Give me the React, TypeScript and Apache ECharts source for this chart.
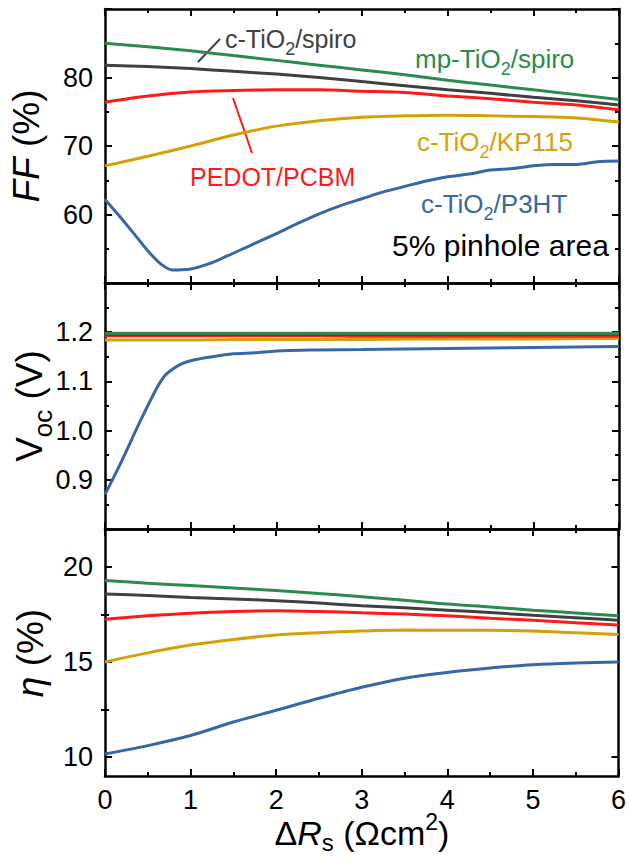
import React, { useEffect, useRef } from "react";
import * as echarts from "echarts";

// ---------- data ----------
const X13 = [0, 0.5, 1, 1.5, 2, 2.5, 3, 3.5, 4, 4.5, 5, 5.5, 6];

// Fill factor FF (%)
const FF_MP_SPIRO = [85.0, 84.5, 83.9, 83.2, 82.5, 81.8, 81.1, 80.4, 79.6, 78.9, 78.2, 77.5, 76.8];
const FF_C_SPIRO = [81.8, 81.6, 81.3, 80.9, 80.5, 80.0, 79.4, 78.8, 78.2, 77.7, 77.1, 76.6, 76.0];
const FF_PEDOT = [76.4, 77.3, 77.9, 78.1, 78.2, 78.2, 78.0, 77.8, 77.3, 76.9, 76.4, 76.0, 75.3];
const FF_KP115 = [67.1, 68.5, 70.0, 71.6, 72.9, 73.7, 74.2, 74.4, 74.5, 74.4, 74.3, 74.1, 73.5];
const FF_P3HT_X = [0, 0.18, 0.37, 0.5, 0.65, 0.79, 0.98, 1.21, 1.4, 1.7, 2.0, 2.25, 2.5, 2.75, 3.0, 3.25, 3.5, 3.75, 4.0, 4.25, 4.5, 4.75, 5.0, 5.25, 5.5, 5.75, 6.0];
const FF_P3HT = [62.2, 59.6, 56.7, 54.7, 52.8, 51.9, 52.0, 52.8, 53.8, 55.5, 57.2, 58.7, 60.1, 61.3, 62.3, 63.3, 64.1, 64.9, 65.5, 65.9, 66.5, 66.7, 67.1, 67.3, 67.3, 67.7, 67.8];

// Open-circuit voltage Voc (V)
const VOC_MP_SPIRO = [1.198, 1.198, 1.198, 1.198, 1.198, 1.198, 1.198, 1.198, 1.198, 1.198, 1.198, 1.198, 1.198];
const VOC_C_SPIRO = [1.196, 1.196, 1.196, 1.196, 1.196, 1.196, 1.196, 1.196, 1.196, 1.196, 1.196, 1.196, 1.196];
const VOC_PEDOT = [1.193, 1.193, 1.193, 1.193, 1.193, 1.193, 1.192, 1.192, 1.192, 1.192, 1.192, 1.192, 1.192];
const VOC_KP115 = [1.184, 1.184, 1.184, 1.185, 1.185, 1.185, 1.185, 1.186, 1.186, 1.186, 1.186, 1.187, 1.187];
const VOC_P3HT_X = [0, 0.2, 0.4, 0.6, 0.7, 0.8, 0.9, 1.0, 1.25, 1.5, 1.75, 2.0, 2.5, 3.0, 3.5, 4.0, 4.5, 5.0, 5.5, 6.0];
const VOC_P3HT = [0.870, 0.940, 1.015, 1.085, 1.112, 1.126, 1.136, 1.142, 1.150, 1.156, 1.158, 1.162, 1.164, 1.165, 1.166, 1.167, 1.168, 1.169, 1.170, 1.171];

// Efficiency eta (%)
const ETA_MP_SPIRO = [19.29, 19.15, 19.02, 18.89, 18.76, 18.6, 18.44, 18.25, 18.05, 17.9, 17.73, 17.58, 17.43];
const ETA_C_SPIRO = [18.58, 18.5, 18.4, 18.32, 18.23, 18.1, 17.96, 17.85, 17.73, 17.6, 17.46, 17.33, 17.2];
const ETA_PEDOT = [17.25, 17.43, 17.57, 17.66, 17.7, 17.66, 17.59, 17.52, 17.43, 17.3, 17.2, 17.07, 16.95];
const ETA_KP115 = [15.0, 15.48, 15.89, 16.19, 16.42, 16.54, 16.63, 16.68, 16.67, 16.67, 16.63, 16.54, 16.45];
const ETA_P3HT = [10.16, 10.6, 11.13, 11.84, 12.46, 13.09, 13.67, 14.15, 14.45, 14.68, 14.86, 14.95, 15.0];

const X_TICK_LABELS = ["0", "1", "2", "3", "4", "5", "6"];
const ETA_MAJOR = [10, 15, 20];
const ETA_MINOR = [12.5, 17.5];

// ---------- style ----------
const FONT = "'Liberation Sans', Arial, Helvetica, sans-serif";
const C_GREEN = "#2b8a4e";
const C_GRAY = "#404040";
const C_RED = "#ff1a1a";
const C_GOLD = "#d4a106";
const C_BLUE = "#3767a5";
const W = 629;
const H = 861;
const LEFT = 105;
const RIGHT = 10;
const TICK_FONT = 27;
const GRIDS = [
  { top: 9, height: 274 },
  { top: 283, height: 246 },
  { top: 529, height: 247 },
];

const pairs = (xs: number[], ys: number[]) => xs.map((x, i) => [x, ys[i]]);

const axisLineStyle = { color: "#000", width: 2.5 };
const tickStyle = { color: "#000", width: 2 };

function xAxisFor(g: number, position: "bottom" | "top") {
  const showLabel = g === 2 && position === "bottom";
  return {
    type: "value",
    gridIndex: g,
    position,
    min: 0,
    max: 6,
    interval: 1,
    axisLine: { show: true, onZero: false, lineStyle: axisLineStyle },
    axisTick: { show: true, inside: true, length: 7, lineStyle: tickStyle },
    minorTick: { show: true, splitNumber: 2, length: 4, lineStyle: tickStyle },
    splitLine: { show: false },
    minorSplitLine: { show: false },
    axisLabel: {
      show: showLabel,
      margin: 10,
      fontSize: TICK_FONT,
      fontFamily: FONT,
      color: "#000",
      formatter: (v: number) => X_TICK_LABELS[Math.round(v)] ?? "",
    },
  };
}

function yAxisBase(g: number, position: "left" | "right", extra: any) {
  const showLabel = position === "left";
  return {
    type: "value",
    gridIndex: g,
    position,
    axisLine: { show: true, onZero: false, lineStyle: axisLineStyle },
    axisTick: { show: true, inside: true, length: 7, lineStyle: tickStyle },
    splitLine: { show: false },
    minorSplitLine: { show: false },
    ...extra,
    axisLabel: {
      show: showLabel,
      margin: 12,
      fontSize: TICK_FONT,
      fontFamily: FONT,
      color: "#000",
      ...(extra.axisLabel || {}),
    },
  };
}

function richFor(size: number, color: string, subShift = 0.75) {
  return {
    a: { fontSize: size, fontFamily: FONT, fill: color },
    i: { fontSize: size, fontFamily: FONT, fill: color, fontStyle: "italic" },
    s: { fontSize: Math.round(size * 0.7), fontFamily: FONT, fill: color, padding: [Math.round(size * subShift), 0, 0, 0] },
    u: { fontSize: Math.round(size * 0.68), fontFamily: FONT, fill: color, padding: [0, 0, Math.round(size * 0.65), 0] },
  };
}

function txt(x: number, y: number, text: string, color: string, size: number, align = "left", rotation = 0, subShift = 0.75) {
  return {
    type: "text",
    x,
    y,
    rotation,
    style: {
      text,
      fill: color,
      fontSize: size,
      fontFamily: FONT,
      align,
      verticalAlign: "middle",
      rich: richFor(size, color, subShift),
    },
  };
}

export default function App() {
  const ref = useRef<HTMLDivElement>(null);
  useEffect(() => {
    document.body.style.margin = "0";
    if (!ref.current) return;
    const chart = echarts.init(ref.current, undefined, { renderer: "svg" });

    const line = (name: string, color: string, data: number[][], g: number) => ({
      name,
      type: "line",
      xAxisIndex: g * 2,
      yAxisIndex: g * 2,
      data,
      showSymbol: false,
      smooth: 0.3,
      lineStyle: { color, width: 3 },
      itemStyle: { color },
      z: 3,
    });

    const ffFmt = (v: number) => (v <= 50 || v >= 90 ? "" : String(Math.round(v)));
    const vocFmt = (v: number) => (v < 0.85 || v > 1.25 ? "" : v.toFixed(1));

    const option: any = {
      animation: false,
      backgroundColor: "#fff",
      grid: GRIDS.map((g) => ({ left: LEFT, right: RIGHT, top: g.top, height: g.height, containLabel: false })),
      xAxis: [
        xAxisFor(0, "bottom"), xAxisFor(0, "top"),
        xAxisFor(1, "bottom"), xAxisFor(1, "top"),
        xAxisFor(2, "bottom"), xAxisFor(2, "top"),
      ],
      yAxis: [
        yAxisBase(0, "left", { min: 50, max: 90, interval: 10, minorTick: { show: true, splitNumber: 2, length: 4, lineStyle: tickStyle }, axisLabel: { formatter: ffFmt } }),
        yAxisBase(0, "right", { min: 50, max: 90, interval: 10, minorTick: { show: true, splitNumber: 2, length: 4, lineStyle: tickStyle } }),
        yAxisBase(1, "left", { min: 0.8, max: 1.3, interval: 0.1, minorTick: { show: true, splitNumber: 2, length: 4, lineStyle: tickStyle }, axisLabel: { formatter: vocFmt } }),
        yAxisBase(1, "right", { min: 0.8, max: 1.3, interval: 0.1, minorTick: { show: true, splitNumber: 2, length: 4, lineStyle: tickStyle } }),
        yAxisBase(2, "left", { min: 9, max: 22, axisTick: { show: true, inside: true, length: 7, lineStyle: tickStyle, customValues: ETA_MAJOR }, axisLabel: { customValues: ETA_MAJOR } }),
        yAxisBase(2, "right", { min: 9, max: 22, axisTick: { show: true, inside: true, length: 7, lineStyle: tickStyle, customValues: ETA_MAJOR } }),
        {
          type: "value", gridIndex: 2, position: "left", min: 9, max: 22,
          axisLine: { show: false }, splitLine: { show: false },
          axisTick: { show: true, inside: true, length: 4, lineStyle: tickStyle, customValues: ETA_MINOR },
          axisLabel: { show: false },
        },
        {
          type: "value", gridIndex: 2, position: "right", min: 9, max: 22,
          axisLine: { show: false }, splitLine: { show: false },
          axisTick: { show: true, inside: true, length: 4, lineStyle: tickStyle, customValues: ETA_MINOR },
          axisLabel: { show: false },
        },
      ],
      series: [
        line("c-TiO2/P3HT", C_BLUE, pairs(FF_P3HT_X, FF_P3HT), 0),
        line("c-TiO2/KP115", C_GOLD, pairs(X13, FF_KP115), 0),
        line("PEDOT/PCBM", C_RED, pairs(X13, FF_PEDOT), 0),
        line("c-TiO2/spiro", C_GRAY, pairs(X13, FF_C_SPIRO), 0),
        line("mp-TiO2/spiro", C_GREEN, pairs(X13, FF_MP_SPIRO), 0),

        line("c-TiO2/P3HT", C_BLUE, pairs(VOC_P3HT_X, VOC_P3HT), 1),
        line("c-TiO2/KP115", C_GOLD, pairs(X13, VOC_KP115), 1),
        line("PEDOT/PCBM", C_RED, pairs(X13, VOC_PEDOT), 1),
        line("c-TiO2/spiro", C_GRAY, pairs(X13, VOC_C_SPIRO), 1),
        line("mp-TiO2/spiro", C_GREEN, pairs(X13, VOC_MP_SPIRO), 1),

        line("c-TiO2/P3HT", C_BLUE, pairs(X13, ETA_P3HT), 2),
        line("c-TiO2/KP115", C_GOLD, pairs(X13, ETA_KP115), 2),
        line("PEDOT/PCBM", C_RED, pairs(X13, ETA_PEDOT), 2),
        line("c-TiO2/spiro", C_GRAY, pairs(X13, ETA_C_SPIRO), 2),
        line("mp-TiO2/spiro", C_GREEN, pairs(X13, ETA_MP_SPIRO), 2),
      ],
      graphic: [
        // axis titles
        txt(26, 146, "{i|FF}{a| (%)}", "#000", 37, "center", Math.PI / 2),
        txt(29, 406, "{a|V}{s|oc}{a| (V)}", "#000", 37, "center", Math.PI / 2),
        txt(30, 653, "{i|η}{a| (%)}", "#000", 37, "center", Math.PI / 2),
        txt(362, 833, "{a|Δ}{i|R}{s|s}{a| (Ωcm}{u|2}{a|)}", "#000", 34, "center", 0, 0.55),
        // annotations
        txt(225, 39, "{a|c-TiO}{s|2}{a|/spiro}", C_GRAY, 25),
        txt(415, 59, "{a|mp-TiO}{s|2}{a|/spiro}", C_GREEN, 26),
        txt(417, 142, "{a|c-TiO}{s|2}{a|/KP115}", C_GOLD, 26),
        txt(190, 177, "{a|PEDOT/PCBM}", C_RED, 25),
        txt(421, 204, "{a|c-TiO}{s|2}{a|/P3HT}", C_BLUE, 26),
        txt(392, 245, "{a|5% pinhole area}", "#000", 30),
        { type: "line", shape: { x1: 198, y1: 62, x2: 220, y2: 39 }, style: { stroke: C_GRAY, lineWidth: 2 } },
        { type: "line", shape: { x1: 233, y1: 98, x2: 252, y2: 153 }, style: { stroke: C_RED, lineWidth: 2 } },
      ],
    };
    chart.setOption(option);
    return () => chart.dispose();
  }, []);
  return <div ref={ref} style={{ width: W, height: H }} />;
}
